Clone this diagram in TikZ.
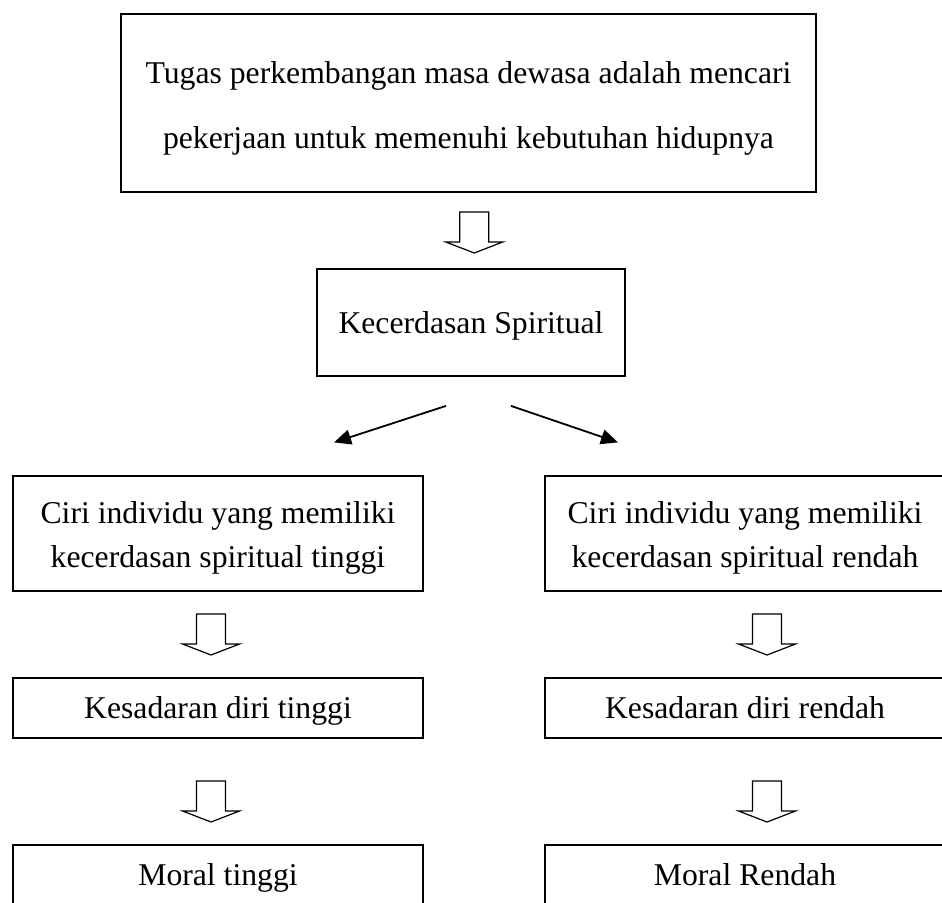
\documentclass[tikz,border=0pt]{standalone}
\usepackage{fontspec}
\setmainfont{Liberation Serif}
\usetikzlibrary{calc,arrows.meta}
\tikzset{
  thickbox/.style={draw=black, line width=1.8pt, inner sep=0pt, align=center},
  thinbox/.style={draw=black, line width=1.2pt, inner sep=0pt, align=center},
  txt/.style={font=\fontsize{31.7}{44}\selectfont},
  oneline/.style={text height=28pt, text depth=7pt},
  diag/.style={line width=1.8pt, -{Triangle[length=17pt,width=15pt]}},
  hollowarrow/.pic={
    \draw[line width=1.2pt, line join=miter, fill=white]
      (-14.5,-20.5) -- (-14.5,9.5) -- (-28.5,9.5) -- (0,20.5) -- (28.5,9.5) -- (14.5,9.5) -- (14.5,-20.5) -- cycle;
  }
}
\begin{document}
\begin{tikzpicture}[x=1pt,y=-1pt]
\useasboundingbox (0,0) rectangle (942,902);
\clip (0,0) rectangle (942,902);
\node[thickbox, minimum width=695pt, minimum height=178pt, font=\fontsize{31.7}{65}\selectfont] (top) at (468.5,103)
  {\rule{0pt}{33pt}Tugas perkembangan masa dewasa adalah mencari\\pekerjaan untuk memenuhi kebutuhan hidupnya};
\node[thickbox, txt, oneline, minimum width=308pt, minimum height=107pt] (kec) at (471,322.5) {Kecerdasan Spiritual};
\node[thinbox, txt, minimum width=410pt, minimum height=115pt] (ciriL) at (218,533.5)
  {\rule{0pt}{31pt}Ciri individu yang memiliki\\kecerdasan spiritual tinggi};
\node[thinbox, txt, minimum width=400pt, minimum height=115pt] (ciriR) at (745,533.5)
  {\rule{0pt}{31pt}Ciri individu yang memiliki\\kecerdasan spiritual rendah};
\node[thinbox, txt, oneline, minimum width=410pt, minimum height=60pt] (kesL) at (218,708) {Kesadaran diri tinggi};
\node[thinbox, txt, oneline, minimum width=400pt, minimum height=60pt] (kesR) at (745,708) {Kesadaran diri rendah};
\node[thinbox, txt, oneline, minimum width=410pt, minimum height=60pt] (morL) at (218,875) {Moral tinggi};
\node[thinbox, txt, oneline, minimum width=400pt, minimum height=60pt] (morR) at (745,875) {Moral Rendah};

\pic at ($(top.south)!0.5!(kec.north)+(4.5,2)$) {hollowarrow};
\pic at ($(ciriL.south)!0.5!(kesL.north)+(-7,0)$) {hollowarrow};
\pic at ($(ciriR.south)!0.5!(kesR.north)+(22,0)$) {hollowarrow};
\pic at ($(kesL.south)!0.5!(morL.north)+(-7,10)$) {hollowarrow};
\pic at ($(kesR.south)!0.5!(morR.north)+(22,10)$) {hollowarrow};

\draw[diag] ([xshift=-25pt,yshift=-29pt]kec.south) -- ([xshift=116pt,yshift=33pt]ciriL.north);
\draw[diag] ([xshift=40pt,yshift=-29pt]kec.south) -- ([xshift=-127pt,yshift=33pt]ciriR.north);
\end{tikzpicture}
\end{document}
